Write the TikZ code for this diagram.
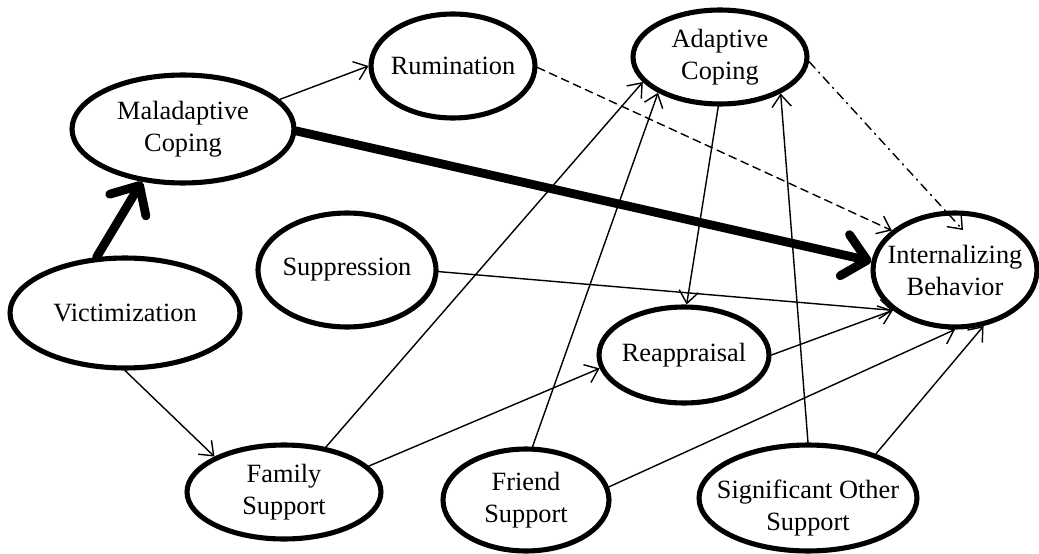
\documentclass[tikz,border=0pt]{standalone}
\usepackage{fontspec}
\setmainfont{Liberation Serif}
\usetikzlibrary{shapes.geometric,arrows.meta}
\begin{document}
\begin{tikzpicture}[x=0.02cm, y=-0.02cm, line join=round, line cap=round,
	font=\fontsize{15}{18.2}\selectfont,
	every label/.style={align=center},
	var/.style={ellipse, draw, line width=2.9pt, inner sep=0pt},
	link/.style={line width=0.8pt, -{Straight Barb[length=7pt,width=11pt]}},
	heavy/.style={line width=5pt, -{Straight Barb[length=13pt,width=24pt,round]}},
	dashline/.style={dash pattern=on 4.5pt off 3pt},
	dotline/.style={dash pattern=on 5pt off 3pt on 0.8pt off 3pt}]
	\useasboundingbox (0,0) rectangle (1039,554);
	\node[var, minimum width=4.44cm, minimum height=2.16cm, label={center:Maladaptive\\Coping}] (mal) at (183,129) {};
	\node[var, minimum width=3.28cm, minimum height=2.08cm, label={center:Rumination}] (rum) at (453,66) {};
	\node[var, minimum width=3.48cm, minimum height=1.88cm, label={center:Adaptive\\Coping}] (ada) at (720,57) {};
	\node[var, minimum width=3.28cm, minimum height=2.28cm, label={center:Internalizing\\Behavior}] (intb) at (955,270) {};
	\node[var, minimum width=4.6cm, minimum height=2.2cm, label={center:Victimization}] (vic) at (125,313) {};
	\node[var, minimum width=3.56cm, minimum height=2.28cm, label={center:Suppression}] (sup) at (347,270) {};
	\node[var, minimum width=3.4cm, minimum height=1.92cm, label={center:Reappraisal}] (rea) at (684,355) {};
	\node[var, minimum width=3.88cm, minimum height=1.88cm, label={center:Family\\Support}] (fam) at (284,492) {};
	\node[var, minimum width=3.32cm, minimum height=2.04cm, label={center:Friend\\Support}] (fri) at (526,500) {};
	\node[var, minimum width=4.36cm, minimum height=2.12cm, label={[yshift=-0.2cm]center:Significant Other\\Support}] (sig) at (808,498) {};

	\draw[heavy] (vic.117) -- (mal.232);
	\draw[heavy] (mal.-1) -- (intb.174);
	\draw[link] (mal.17) -- (rum.180);
	\draw[link, dashline] (rum.-1) -- (intb.148);
	\draw[link, dotline] (ada.-3) -- ([shift={(8,-40)}]intb.center);
	\draw[link] (ada.268) -- (rea.87);
	\draw[link] (fam.47) -- (ada.198);
	\draw[link] (fri.83) -- (ada.210);
	\draw[link] (sig.90) -- (ada.-31);
	\draw[link] (sup.-1) -- (intb.213);
	\draw[link] (rea.0) -- (intb.213);
	\draw[link] (fam.17) -- (rea.189);
	\draw[link] (fri.9) -- (intb.270);
	\draw[link] (sig.33) -- (intb.-63);
	\draw[link] (vic.270) -- (fam.153);
\end{tikzpicture}
\end{document}
